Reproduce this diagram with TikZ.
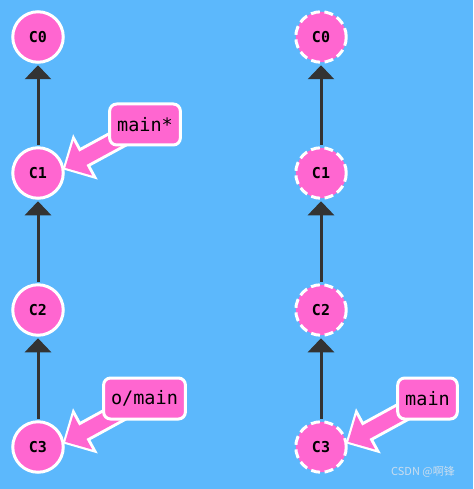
\documentclass[tikz,border=0pt]{standalone}
\usepackage{fontspec}
\setmonofont{DejaVu Sans Mono}
\newfontfamily\cjkfont{Noto Sans CJK SC}
\usetikzlibrary{arrows.meta}
\definecolor{skyblue}{HTML}{5CB8FC}
\definecolor{gitpink}{HTML}{FF66D0}
\definecolor{arrowgray}{HTML}{333333}
\definecolor{markgray}{HTML}{CADDEE}
\pgfdeclarelayer{top}
\pgfsetlayers{main,top}
\begin{document}
\begin{tikzpicture}[x=1pt,y=-1pt,
  commit/.style={circle, fill=gitpink, draw=white, line width=3pt, minimum size=50.5pt, inner sep=0pt, font=\ttfamily\bfseries\fontsize{15}{15}\selectfont},
  ghost/.style={commit, dash pattern=on 9pt off 4.6pt},
  branch/.style={rectangle, rounded corners=7pt, fill=gitpink, draw=white, line width=3pt, minimum height=41pt, inner xsep=7.5pt, font=\ttfamily\fontsize{18.5}{18.5}\selectfont},
  parent/.style={arrowgray, line width=3pt, shorten >=1.5pt, shorten <=1.5pt, -{Triangle[length=14pt,width=26pt]}},
  pointer/.style={gitpink, line width=15pt, shorten >=1pt, -{Triangle[length=20pt,width=38pt]},
    preaction={draw=white, line width=21pt, shorten >=-2pt, -{Triangle[length=26pt,width=50pt]}}}]
\fill[skyblue] (0,0) rectangle (473,489);
\useasboundingbox (0,0) rectangle (473,489);
% local repository
\node[commit] (c0) at (38,37) {C0};
\node[commit] (c1) at (38,173) {C1};
\node[commit] (c2) at (38,310) {C2};
\node[commit] (c3) at (38,447) {C3};
\draw[parent] (c1) -- (c0);
\draw[parent] (c2) -- (c1);
\draw[parent] (c3) -- (c2);
% remote repository
\node[ghost] (r0) at (321,37) {C0};
\node[ghost] (r1) at (321,173) {C1};
\node[ghost] (r2) at (321,310) {C2};
\node[ghost] (r3) at (321,447) {C3};
\draw[parent] (r1) -- (r0);
\draw[parent] (r2) -- (r1);
\draw[parent] (r3) -- (r2);
% branch labels
\begin{pgfonlayer}{top}
\node[branch] (mainstar) at (145,124.5) {main*};
\node[branch] (omain) at (144.5,398.5) {o/main};
\node[branch] (rmain) at (427.5,398.5) {main};
\end{pgfonlayer}
\draw[pointer] (mainstar.center) -- (c1.10);
\draw[pointer] (omain.center) -- (c3.10);
\draw[pointer] (rmain.center) -- (r3.10);
\node[text=markgray, font=\cjkfont\fontsize{11}{11}\selectfont] (mark) at (423,472) {CSDN @啊锋};
\end{tikzpicture}
\end{document}
